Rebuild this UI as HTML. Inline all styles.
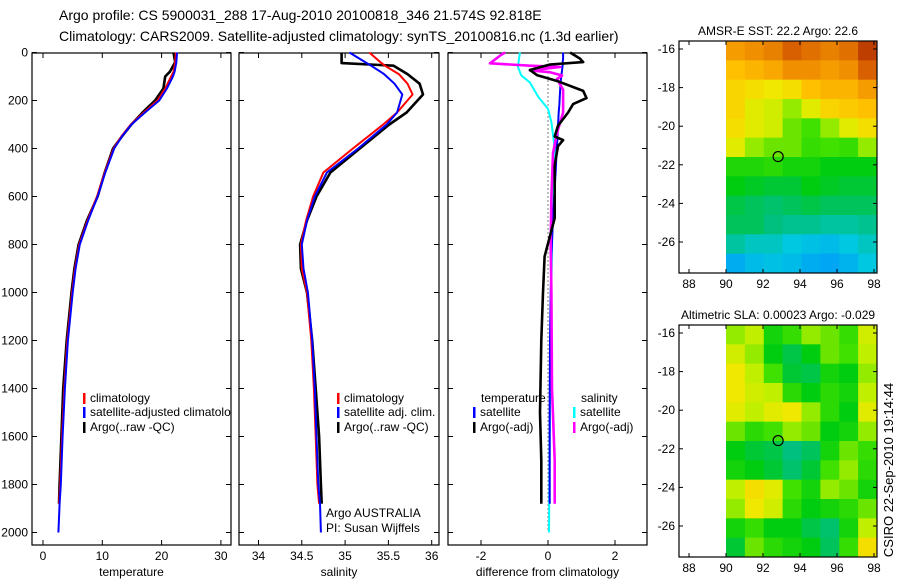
<!DOCTYPE html>
<html><head><meta charset="utf-8"><style>
body{margin:0;background:#fff;}
svg{display:block;font-family:"Liberation Sans",sans-serif;}
</style></head><body>
<svg id="fig" width="900" height="580" viewBox="0 0 900 580">
<defs><clipPath id="clip1"><rect x="32" y="53" width="199" height="492"/></clipPath></defs>
<text x="59" y="20" font-size="14">Argo profile: CS 5900031_288 17-Aug-2010 20100818_346 21.574S 92.818E</text>
<text x="59" y="41" font-size="14">Climatology: CARS2009. Satellite-adjusted climatology: synTS_20100816.nc (1.3d earlier)</text>
<g id="g"></g>
</svg>
<script>
// ---- data ----
const tDepth = [0,40,80,100,150,200,250,300,350,400,500,600,700,800,900,1000,1200,1400,1600,1800,1880,2000];
const tClim  = [22.4,22.3,22.0,21.6,20.6,19.3,17.0,14.8,13.2,11.9,10.4,9.1,7.5,6.1,5.4,4.9,4.1,3.6,3.2,2.9,2.7,2.6];
const tSat   = [22.6,22.5,22.2,21.9,20.9,19.6,17.2,14.9,13.3,12.0,10.5,9.2,7.6,6.2,5.5,5.0,4.2,3.7,3.3,3.0,2.8,2.6];
const tArgo  = [22.0,22.3,21.4,20.6,20.3,18.9,16.8,14.9,13.3,11.8,10.4,9.2,7.4,6.0,5.3,4.8,4.0,3.4,3.1,2.8,2.7];
const sDepth = [0,44,55,90,130,175,250,300,400,500,600,700,800,900,1000,1200,1400,1600,1800,1880,2000];
const sClim  = [35.28,35.42,35.46,35.62,35.72,35.78,35.60,35.44,35.09,34.75,34.63,34.55,34.49,34.5,34.56,34.61,34.64,34.66,34.68,34.70,34.71];
const sSat   = [35.05,35.25,35.30,35.45,35.57,35.66,35.60,35.48,35.15,34.79,34.65,34.56,34.50,34.52,34.57,34.62,34.65,34.67,34.69,34.71,34.72];
const sArgo  = [34.96,34.96,35.56,35.72,35.86,35.90,35.71,35.51,35.17,34.83,34.67,34.56,34.48,34.49,34.56,34.62,34.66,34.70,34.72,34.73];
const dDepth = [0,25,40,50,73,94,120,160,190,215,250,305,350,365,390,470,690,850,1000,1200,1500,1700,1880];
const dTArgo = [0.66,0.95,1.05,0.06,-0.54,-0.33,0.3,1.05,1.15,0.75,0.6,0.3,0.2,0.45,0.3,0.2,0.2,-0.1,-0.15,-0.2,-0.24,-0.2,-0.2];
const dTSat  = [0.45,0.45,0.44,0.44,0.42,0.4,0.38,0.36,0.35,0.34,0.32,0.3,0.28,0.28,0.26,0.24,0.15,0.1,0.08,0.06,0.05,0.05,0.05];
const dSDepth= [0,10,45,55,60,75,82,96,110,155,250,335,420,600,800,1000,1400,1700,1880];
const dSArgo = [-1.28,-1.4,-1.73,-0.54,0.36,-0.54,0.06,0.42,0.27,0.45,0.45,0.27,0.15,0.1,0.08,0.1,0.12,0.2,0.2];
const cDepth = [0,60,95,125,185,235,290,400,800,1200,1600,2000];
const dSSat  = [-0.84,-0.9,-0.8,-0.54,-0.29,0.0,0.1,0.2,0.12,0.08,0.05,0.03];
const depthTicks = [0,200,400,600,800,1000,1200,1400,1600,1800,2000];
const tTicks = [0,10,20,30];
const sTicks = [34,34.5,35,35.5,36];
const dTicks = [-2,0,2];
const lonTicks = [88,90,92,94,96,98];
const latTicks = [-16,-18,-20,-22,-24,-26];
const sstGrid = [
[0.82,0.84,0.86,0.9,0.88,0.86,0.88,0.95],
[0.76,0.78,0.8,0.84,0.84,0.82,0.84,0.9],
[0.72,0.7,0.68,0.7,0.76,0.78,0.78,0.82],
[0.72,0.66,0.64,0.6,0.66,0.72,0.74,0.76],
[0.7,0.66,0.64,0.58,0.56,0.6,0.66,0.7],
[0.66,0.6,0.58,0.58,0.55,0.56,0.55,0.6],
[0.53,0.53,0.54,0.52,0.52,0.5,0.5,0.5],
[0.5,0.49,0.48,0.48,0.5,0.49,0.48,0.48],
[0.47,0.46,0.45,0.46,0.47,0.46,0.46,0.46],
[0.46,0.46,0.44,0.43,0.43,0.42,0.42,0.43],
[0.42,0.4,0.4,0.38,0.37,0.36,0.38,0.4],
[0.34,0.36,0.37,0.36,0.34,0.33,0.35,0.38]];
const slaGrid = [
[0.6,0.62,0.52,0.55,0.6,0.58,0.55,0.64],
[0.64,0.6,0.5,0.47,0.5,0.58,0.56,0.62],
[0.68,0.62,0.56,0.48,0.47,0.52,0.5,0.6],
[0.68,0.64,0.62,0.54,0.5,0.54,0.52,0.62],
[0.66,0.62,0.66,0.68,0.6,0.54,0.5,0.66],
[0.58,0.54,0.56,0.6,0.58,0.5,0.52,0.6],
[0.5,0.48,0.47,0.44,0.46,0.52,0.58,0.55],
[0.52,0.5,0.48,0.45,0.48,0.56,0.6,0.54],
[0.62,0.7,0.66,0.56,0.52,0.6,0.58,0.52],
[0.6,0.68,0.64,0.54,0.5,0.52,0.54,0.58],
[0.52,0.55,0.5,0.5,0.47,0.45,0.52,0.62],
[0.48,0.58,0.54,0.52,0.5,0.46,0.55,0.7]];
const argoLon = 92.818, argoLat = -21.574;

// ---- drawing ----
const NS='http://www.w3.org/2000/svg', G=document.getElementById('g');
function mk(tag,attrs,parent){const e=document.createElementNS(NS,tag);for(const k in attrs)e.setAttribute(k,attrs[k]);(parent||G).appendChild(e);return e;}
function txt(x,y,s,size,anchor,parent){const e=mk('text',{x:x,y:y,'font-size':size||12,'text-anchor':anchor||'start'},parent);e.textContent=s;return e;}
const yD = d => 52.5 + d*0.24;
const yTop=53, yBot=545;
const panels=[
 {name:'temperature',x0:32,x1:231,sx:v=>43+v*5.93,ticks:tTicks,label:'temperature'},
 {name:'salinity',x0:239,x1:439,sx:v=>258.5+(v-34)*86.6,ticks:sTicks,label:'salinity'},
 {name:'difference',x0:448,x1:647,sx:v=>548+v*33.5,ticks:dTicks,label:'difference from climatology'}];
panels.forEach((p,i)=>{
  const f=mk('rect',{x:p.x0,y:yTop,width:p.x1-p.x0,height:yBot-yTop,fill:'none',stroke:'#000','stroke-width':1.2});
  
  
  depthTicks.forEach(d=>{const y=yD(d);
    mk('line',{x1:p.x0,x2:p.x0+5,y1:y,y2:y,stroke:'#000'});
    mk('line',{x1:p.x1-5,x2:p.x1,y1:y,y2:y,stroke:'#000'});
    if(i==0){const t=txt(28,y+4,String(d),12,'end');}
  });
  p.ticks.forEach(v=>{const x=p.sx(v);
    mk('line',{x1:x,x2:x,y1:yTop,y2:yTop+5,stroke:'#000'});
    mk('line',{x1:x,x2:x,y1:yBot-5,y2:yBot,stroke:'#000'});
    const t=txt(x,560,String(v),12,'middle');
    
    
  });
  const xl=txt((p.x0+p.x1)/2,576,p.label,12,'middle');
  
  
});
function line(depths,vals,sx,color,w,name,dotted){
  const pts=vals.map((v,i)=>sx(v).toFixed(1)+','+yD(depths[i]).toFixed(1)).join(' ');
  const e=mk('polyline',{points:pts,fill:'none',stroke:color,'stroke-width':w,'stroke-linejoin':'round'});
  if(dotted)e.setAttribute('stroke-dasharray','1,3');
  
  
}
const P=panels;
line(tDepth.slice(0,tArgo.length),tArgo,P[0].sx,'#000',2.6,'temp-argo-line');
line(tDepth.slice(0,21),tClim.slice(0,21),P[0].sx,'#f00',2,'temp-climatology-line');
line(tDepth,tSat,P[0].sx,'#00f',2,'temp-satellite-line');
line(sDepth.slice(0,sArgo.length),sArgo,P[1].sx,'#000',2.6,'sal-argo-line');
line(sDepth.slice(0,20),sClim.slice(0,20),P[1].sx,'#f00',2,'sal-climatology-line');
line(sDepth,sSat,P[1].sx,'#00f',2,'sal-satellite-line');
line([0,2000],[0,0],P[2].sx,'#000',1,'zero-line',true);
line(cDepth,dSSat,P[2].sx,'#0ff',2,'sal-satellite-diff-line');
line(dDepth,dTSat,P[2].sx,'#00f',2,'temp-satellite-diff-line');
line(dSDepth,dSArgo,P[2].sx,'#f0f',2.6,'sal-argo-diff-line');
line(dDepth,dTArgo,P[2].sx,'#000',2.6,'temp-argo-diff-line');
// legends
const clipG=mk('g',{'clip-path':'url(#clip1)'});
function leg(x,y,color,label,name,parent){const r=mk('rect',{x:x,y:y-9,width:2.5,height:11,fill:color},parent);
  const t=txt(x+7,y,label,12,'start',parent);}
leg(83,402,'#f00','climatology','legend-climatology',clipG);
leg(83,416,'#00f','satellite-adjusted climatology','legend-satellite-adjusted',clipG);
leg(83,431,'#000','Argo(..raw -QC)','legend-argo',clipG);
leg(337,402,'#f00','climatology','legend-sal-climatology');
leg(337,416,'#00f','satellite adj. clim.','legend-sal-satellite');
leg(337,431,'#000','Argo(..raw -QC)','legend-sal-argo');
txt(326,517,'Argo AUSTRALIA',12);
txt(326,532,'PI: Susan Wijffels',12);
txt(481,402,'temperature',12);
txt(581,402,'salinity',12);
leg(473,416,'#00f','satellite','legend-temp-satellite');
leg(473,431,'#000','Argo(-adj)','legend-temp-argo');
leg(573,416,'#0ff','satellite','legend-sal-satellite-diff');
leg(573,431,'#f0f','Argo(-adj)','legend-sal-argo-diff');
// colormap
const stops=[[0.3,[0,144,255]],[0.38,[0,200,224]],[0.44,[0,192,128]],[0.5,[0,204,16]],[0.56,[64,224,0]],[0.62,[192,240,0]],[0.68,[240,232,0]],[0.76,[255,192,0]],[0.84,[240,144,0]],[0.92,[208,80,0]],[1.0,[160,32,0]]];
function cmap(v){if(v<=stops[0][0])return 'rgb('+stops[0][1]+')';for(let i=1;i<stops.length;i++){if(v<=stops[i][0]){const a=stops[i-1],b=stops[i],t=(v-a[0])/(b[0]-a[0]);return 'rgb('+a[1].map((c,k)=>Math.round(c+(b[1][k]-c)*t)).join(',')+')';}}return 'rgb('+stops[stops.length-1][1]+')';}
function drawMap(y0,y1,ylat,grid,title,name){
  const x0=679,x1=877,mx0=726;
  const lon=v=>726+(v-90)*18.5;
  const cw=(x1-mx0)/grid[0].length, ch=(y1-y0)/grid.length;
  grid.forEach((row,r)=>row.forEach((v,c)=>{
    const e=mk('rect',{x:mx0+c*cw,y:y0+r*ch,width:cw+0.5,height:ch+0.5,fill:cmap(v)});
    
    
  }));
  const f=mk('rect',{x:x0,y:y0,width:x1-x0,height:y1-y0,fill:'none',stroke:'#000','stroke-width':1.2});
  
  
  lonTicks.forEach(v=>{const x=lon(v);mk('line',{x1:x,x2:x,y1:y1-4,y2:y1,stroke:'#000'});mk('line',{x1:x,x2:x,y1:y0,y2:y0+4,stroke:'#000'});
    const t=txt(x,y1+15,String(v),12,'middle');});
  latTicks.forEach(v=>{const y=ylat(v);mk('line',{x1:x0,x2:x0+4,y1:y,y2:y,stroke:'#000'});mk('line',{x1:x1-4,x2:x1,y1:y,y2:y,stroke:'#000'});
    const t=txt(675,y+4,String(v),12,'end');});
  const c=mk('circle',{cx:lon(argoLon),cy:ylat(argoLat),r:5,fill:'none',stroke:'#000','stroke-width':1.2});
  
  
  const t=txt(778,y0-6,title,12,'middle');
}
drawMap(41,273,v=>49+(-16-v)*19.3,sstGrid,'AMSR-E SST: 22.2 Argo: 22.6','sst-map');
drawMap(325,557,v=>333+(-16-v)*19.3,slaGrid,'Altimetric SLA: 0.00023 Argo: -0.029','sla-map');
const cs=txt(0,0,'CSIRO 22-Sep-2010 19:14:44',13,'middle');
cs.setAttribute('transform','translate(893,470) rotate(-90)');


</script>
</body></html>
